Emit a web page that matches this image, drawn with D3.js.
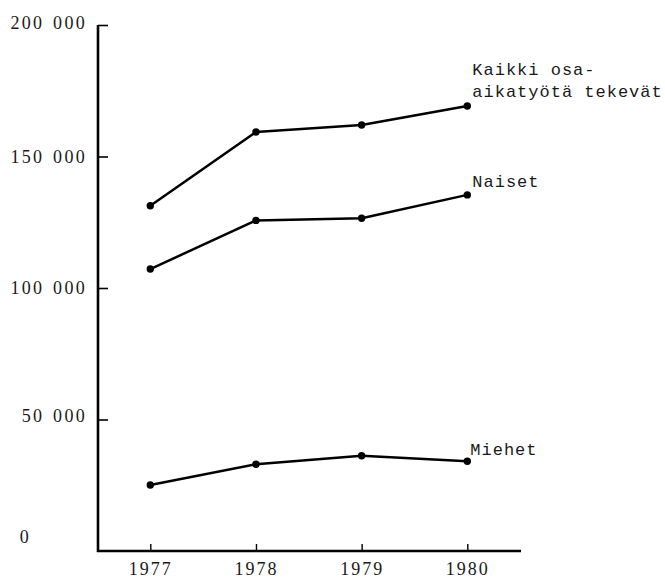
<!DOCTYPE html>
<html><head><meta charset="utf-8">
<script src="https://cdn.jsdelivr.net/npm/d3@7"></script>
<style>
body{margin:0;background:#fff;}
svg{display:block;}
</style></head>
<body>
<svg id="chart" width="665" height="578"></svg>
<script>
const years = [1977, 1978, 1979, 1980];
const kaikki = [131300, 159300, 162000, 169200];
const naiset = [107200, 125700, 126500, 135400];
const miehet = [25100, 33000, 36200, 34100];
const yTicks = [0, 50000, 100000, 150000, 200000];
const seriesLabels = [["Kaikki osa-", "aikatyötä tekevät"], ["Naiset"], ["Miehet"]];

const svg = d3.select("#chart");
const x = d3.scaleLinear().domain([1977, 1980]).range([150.3, 467.3]);
const y = d3.scaleLinear().domain([0, 200000]).range([551, 25]);
const axisLeftX = 98, xEnd = 521;

const fmt = d => d === 0 ? "0" : d3.format(",")(d).replace(/,/g, " ");

// Y axis
const gy = svg.append("g").attr("transform", `translate(${axisLeftX},0)`)
  .call(d3.axisLeft(y).tickValues(yTicks).tickSize(-10).tickPadding(11).tickFormat(fmt));
gy.select(".domain").remove();
gy.selectAll(".tick line").attr("stroke", "#000").attr("stroke-width", 1.6)
  .attr("display", d => d === 0 ? "none" : null);
gy.selectAll(".tick text")
  .attr("font-family", "Liberation Serif, serif").attr("font-size", 18)
  .attr("letter-spacing", 2.3).attr("word-spacing", 2).attr("fill", "#1a1a1a")
  .attr("dy", d => d === 200000 ? "0.2em" : d === 150000 ? "0.33em" : d === 100000 ? "0.3em" : d === 50000 ? "0.1em" : "-0.45em")
  .attr("x", d => d === 0 ? -67 : -11);

// X axis
const gx = svg.append("g").attr("transform", `translate(0,${y(0)})`)
  .call(d3.axisBottom(x).tickValues(years).tickSize(-7).tickPadding(11).tickFormat(d3.format("d")));
gx.select(".domain").remove();
gx.selectAll(".tick line").attr("stroke", "#000").attr("stroke-width", 1.4);
gx.selectAll(".tick text")
  .attr("font-family", "Liberation Serif, serif").attr("font-size", 18)
  .attr("letter-spacing", 2).attr("fill", "#1a1a1a");

// Axis lines
svg.append("line").attr("x1", axisLeftX).attr("x2", axisLeftX).attr("y1", y(200000)).attr("y2", y(0) + 1)
  .attr("stroke", "#000").attr("stroke-width", 2.6);
svg.append("line").attr("x1", axisLeftX - 1).attr("x2", xEnd).attr("y1", y(0)).attr("y2", y(0))
  .attr("stroke", "#000").attr("stroke-width", 2.4);

const line = d3.line().x((d, i) => x(years[i])).y(d => y(d));
[kaikki, naiset, miehet].forEach(s => {
  svg.append("path").datum(s).attr("d", line).attr("fill", "none")
    .attr("stroke", "#000").attr("stroke-width", 2.5).attr("stroke-linejoin", "round");
  svg.selectAll(null).data(s).enter().append("circle")
    .attr("cx", (d, i) => x(years[i])).attr("cy", d => y(d)).attr("r", 3.7).attr("fill", "#000");
});

// Labels
const lab = svg.append("g").attr("font-family", "Liberation Mono, monospace")
  .attr("font-size", 17).attr("letter-spacing", 1.0).attr("fill", "#1a1a1a");
const lastX = x(1980);
lab.append("text").attr("x", lastX + 5).attr("y", y(kaikki[3]) - 31).text(seriesLabels[0][0]);
lab.append("text").attr("x", lastX + 5).attr("y", y(kaikki[3]) - 9).text(seriesLabels[0][1]);
lab.append("text").attr("x", lastX + 5).attr("y", y(naiset[3]) - 8).text(seriesLabels[1][0]);
lab.append("text").attr("x", lastX + 3).attr("y", y(miehet[3]) - 6).text(seriesLabels[2][0]);
</script>
</body></html>
